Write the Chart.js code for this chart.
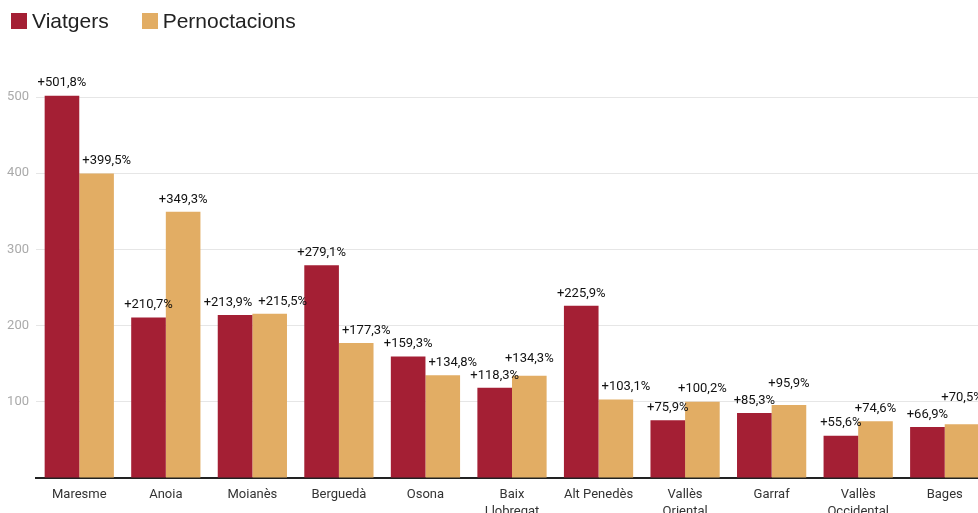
<!DOCTYPE html>
<html>
<head>
<meta charset="utf-8">
<script src="https://cdn.jsdelivr.net/npm/chart.js@4.4.1/dist/chart.umd.min.js"></script>
<style>
  html, body { margin: 0; padding: 0; background: #fff; overflow: hidden; }
  #wrap { position: relative; width: 988px; height: 532px; }
  #legend { position: absolute; left: 11px; top: 9px; font-family: "Liberation Sans", Arial, sans-serif; font-size: 21px; color: #222; display: flex; align-items: center; }
  .item { display: flex; align-items: center; margin-right: 33px; }
  .box { width: 16px; height: 16px; margin-right: 5px; }
</style>
</head>
<body>
<div id="wrap">
  <canvas id="c" width="988" height="532"></canvas>
  <div id="legend"></div>
</div>
<script>
const categories = ["Maresme", "Anoia", "Moianès", "Berguedà", "Osona", ["Baix", "Llobregat"], "Alt Penedès", ["Vallès", "Oriental"], "Garraf", ["Vallès", "Occidental"], "Bages"];
const viatgers = [501.8, 210.7, 213.9, 279.1, 159.3, 118.3, 225.9, 75.9, 85.3, 55.6, 66.9];
const pernoctacions = [399.5, 349.3, 215.5, 177.3, 134.8, 134.3, 103.1, 100.2, 95.9, 74.6, 70.5];
const seriesNames = ["Viatgers", "Pernoctacions"];
const seriesColors = ["#a41f34", "#e2ad64"];
const yTicks = [0, 100, 200, 300, 400, 500];

// HTML legend
const lg = document.getElementById('legend');
seriesNames.forEach((n, i) => {
  const it = document.createElement('div'); it.className = 'item';
  const b = document.createElement('div'); b.className = 'box'; b.style.background = seriesColors[i];
  const t = document.createElement('span'); t.textContent = n;
  it.appendChild(b); it.appendChild(t); lg.appendChild(it);
});

function fmt(v) { return '+' + v.toFixed(1).replace('.', ',') + '%'; }

// value labels with simple collision avoidance (like the original's annotations)
const valueLabels = {
  id: 'valueLabels',
  afterDatasetsDraw(chart) {
    const ctx = chart.ctx;
    ctx.save();
    ctx.font = '13px Roboto';
    ctx.fillStyle = '#111';
    ctx.textAlign = 'center';
    ctx.textBaseline = 'middle';
    const H = 13, LIFT = 12.5, GAP = 4, MAXUP = 15;
    const m0 = chart.getDatasetMeta(0);
    const placed = [];
    const box = l => ({ l: l.cx - l.w / 2, r: l.cx + l.w / 2, t: l.cy - H / 2, b: l.cy + H / 2 });
    const hit = (a, b) => { const A = box(a), B = box(b); return A.l < B.r && A.r > B.l && A.t < B.b && A.b > B.t; };
    const n = chart.data.labels.length;
    for (let i = 0; i < n; i++) {
      [0, 1].forEach(di => {
        const el = chart.getDatasetMeta(di).data[i];
        const txt = fmt(chart.data.datasets[di].data[i]);
        const lab = { txt, w: ctx.measureText(txt).width, cx: el.x, cy: el.y - LIFT, di, el };
        if (di === 1) {
          const red = m0.data[i];
          const redRight = red.x + red.width / 2;
          if (box(lab).l < redRight && box(lab).b > red.y) lab.cx = redRight + 3 + lab.w / 2;
          placed.filter(p => hit(lab, p)).forEach(p => {
            if (!hit(lab, p)) return;
            const target = box(p).t - GAP - H / 2;
            if (lab.cy - target <= MAXUP) {
              lab.cy = Math.min(lab.cy, target);
            } else {
              if (p.di === 0) {
                const barRight = p.el.x + p.el.width / 2;
                p.cx = Math.min(p.cx, barRight - p.w / 2);
              }
              lab.cx = box(p).r + 6 + lab.w / 2;
            }
          });
        }
        placed.push(lab);
      });
    }
    placed.forEach(l => ctx.fillText(l.txt, l.cx, l.cy));
    ctx.restore();
  }
};

new Chart(document.getElementById('c'), {
  type: 'bar',
  data: {
    labels: categories,
    datasets: [
      { label: seriesNames[0], data: viatgers, backgroundColor: seriesColors[0], clip: false, categoryPercentage: 0.8, barPercentage: 1.0 },
      { label: seriesNames[1], data: pernoctacions, backgroundColor: seriesColors[1], clip: false, categoryPercentage: 0.8, barPercentage: 1.0 }
    ]
  },
  options: {
    responsive: false,
    animation: false,
    layout: { padding: { top: 97, right: 0, left: 0, bottom: 0 } },
    plugins: { legend: { display: false }, tooltip: { enabled: false } },
    scales: {
      x: {
        grid: { display: false, drawTicks: false },
        border: { display: true, color: '#222', width: 2 },
        ticks: { color: '#333', font: { family: 'Roboto', size: 13, lineHeight: 1.3 }, padding: 8, maxRotation: 0, autoSkip: false },
        afterFit(scale) { scale.height = 54; }
      },
      y: {
        min: 0, max: 500,
        afterBuildTicks(scale) { scale.ticks = yTicks.map(v => ({ value: v })); },
        grid: { color: '#e6e6e6', lineWidth: 1, drawTicks: false },
        border: { display: false },
        ticks: { color: '#aaa', font: { family: 'Roboto', size: 13 }, padding: 7, callback: v => v === 0 ? '' : String(v) },
        afterFit(scale) { scale.width = 36; }
      }
    }
  },
  plugins: [valueLabels]
});
</script>
</body>
</html>
